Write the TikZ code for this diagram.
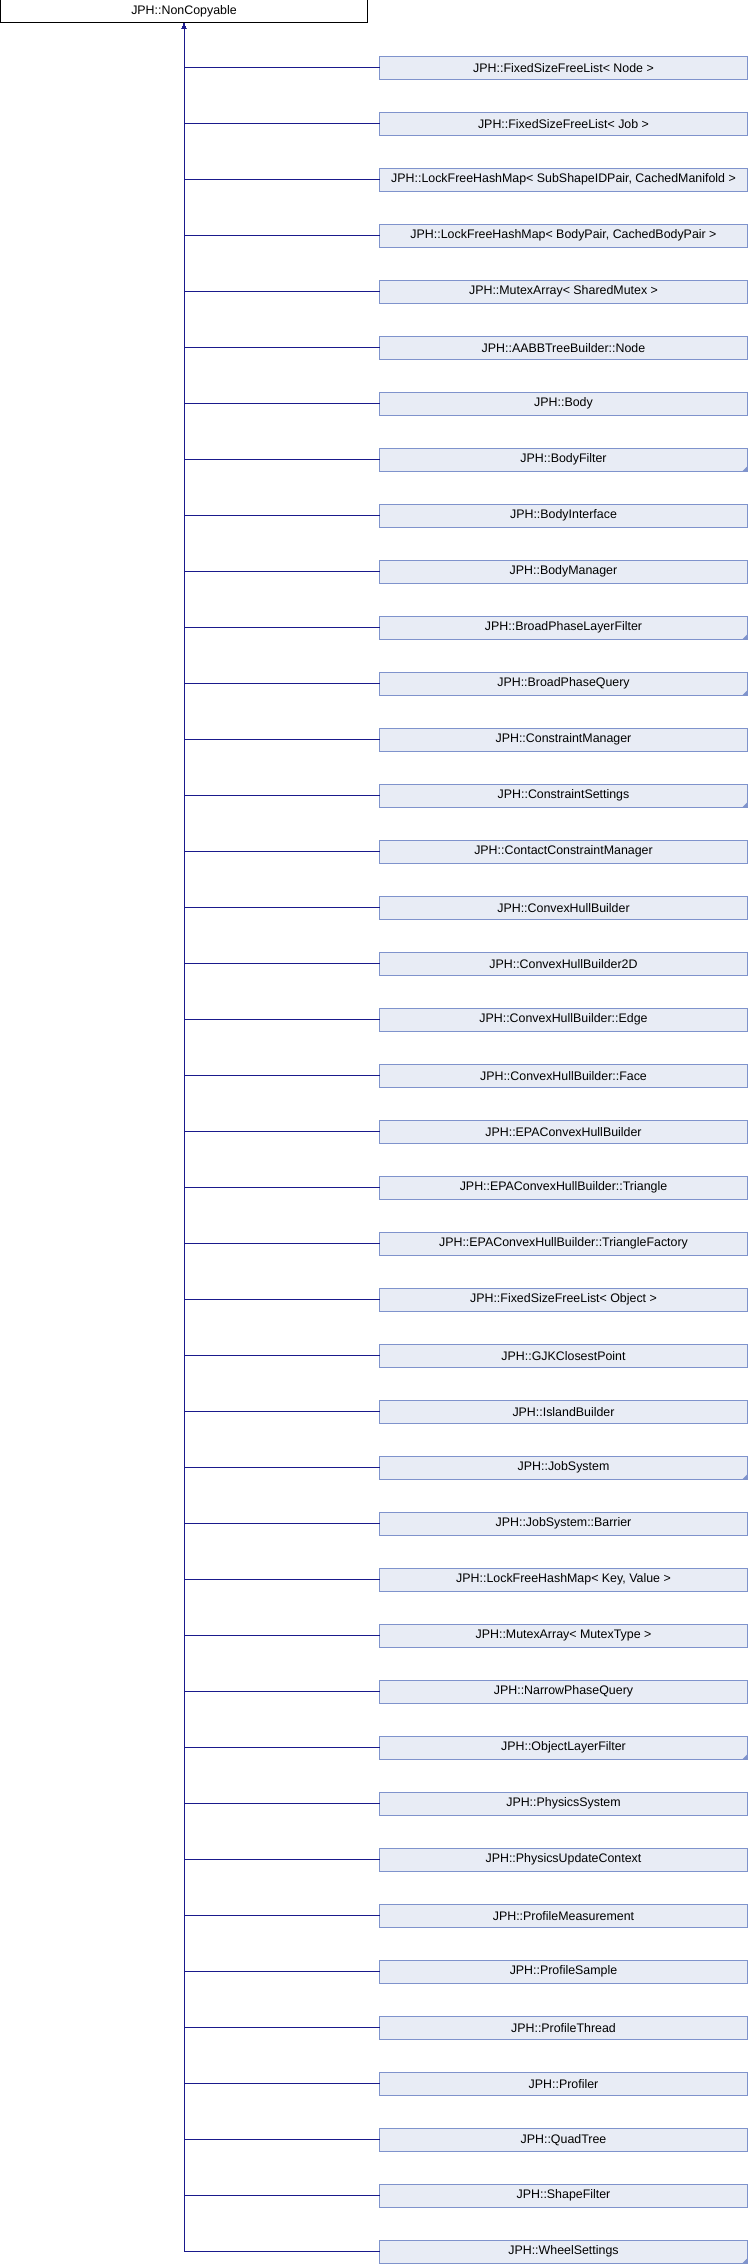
\documentclass[tikz,border=0pt]{standalone}
\usepackage{fontspec}
\setmainfont{Liberation Sans}
\usepackage{xcolor}
\usepackage{tikz}
\usetikzlibrary{positioning,arrows.meta}

\definecolor{boxfill}{HTML}{E8ECF5}
\definecolor{boxline}{HTML}{7F93CC}
\definecolor{edgeblue}{HTML}{1A1A8C}

\begin{document}
\begin{tikzpicture}[x=1pt, y=1pt, node distance=33pt,
    every node/.style={font=\fontsize{12.4}{14}\selectfont, inner sep=0pt, outer sep=0pt},
    basebox/.style={rectangle, draw=black, fill=white, line width=1pt, minimum width=367pt, minimum height=23pt},
    classbox/.style={rectangle, draw=boxline, fill=boxfill, line width=1pt, minimum width=368pt, minimum height=23pt},
    edge/.style={draw=edgeblue, line width=1pt, -{Latex[length=6pt,width=4.5pt]}}]
    \useasboundingbox (0,0) rectangle (748,-2264);

    \node[basebox] (nc) at (184,-11.5) {JPH::NonCopyable};

    \node[classbox] (c1) at (563.5,-67.7) {JPH::FixedSizeFreeList< Node >};
    \node[classbox, below=of c1] (c2) {JPH::FixedSizeFreeList< Job >};
    \node[classbox, below=of c2] (c3) {JPH::LockFreeHashMap< SubShapeIDPair, CachedManifold >};
    \node[classbox, below=of c3] (c4) {JPH::LockFreeHashMap< BodyPair, CachedBodyPair >};
    \node[classbox, below=of c4] (c5) {JPH::MutexArray< SharedMutex >};
    \node[classbox, below=of c5] (c6) {JPH::AABBTreeBuilder::Node};
    \node[classbox, below=of c6] (c7) {JPH::Body};
    \node[classbox, below=of c7] (c8) {JPH::BodyFilter};
    \node[classbox, below=of c8] (c9) {JPH::BodyInterface};
    \node[classbox, below=of c9] (c10) {JPH::BodyManager};
    \node[classbox, below=of c10] (c11) {JPH::BroadPhaseLayerFilter};
    \node[classbox, below=of c11] (c12) {JPH::BroadPhaseQuery};
    \node[classbox, below=of c12] (c13) {JPH::ConstraintManager};
    \node[classbox, below=of c13] (c14) {JPH::ConstraintSettings};
    \node[classbox, below=of c14] (c15) {JPH::ContactConstraintManager};
    \node[classbox, below=of c15] (c16) {JPH::ConvexHullBuilder};
    \node[classbox, below=of c16] (c17) {JPH::ConvexHullBuilder2D};
    \node[classbox, below=of c17] (c18) {JPH::ConvexHullBuilder::Edge};
    \node[classbox, below=of c18] (c19) {JPH::ConvexHullBuilder::Face};
    \node[classbox, below=of c19] (c20) {JPH::EPAConvexHullBuilder};
    \node[classbox, below=of c20] (c21) {JPH::EPAConvexHullBuilder::Triangle};
    \node[classbox, below=of c21] (c22) {JPH::EPAConvexHullBuilder::TriangleFactory};
    \node[classbox, below=of c22] (c23) {JPH::FixedSizeFreeList< Object >};
    \node[classbox, below=of c23] (c24) {JPH::GJKClosestPoint};
    \node[classbox, below=of c24] (c25) {JPH::IslandBuilder};
    \node[classbox, below=of c25] (c26) {JPH::JobSystem};
    \node[classbox, below=of c26] (c27) {JPH::JobSystem::Barrier};
    \node[classbox, below=of c27] (c28) {JPH::LockFreeHashMap< Key, Value >};
    \node[classbox, below=of c28] (c29) {JPH::MutexArray< MutexType >};
    \node[classbox, below=of c29] (c30) {JPH::NarrowPhaseQuery};
    \node[classbox, below=of c30] (c31) {JPH::ObjectLayerFilter};
    \node[classbox, below=of c31] (c32) {JPH::PhysicsSystem};
    \node[classbox, below=of c32] (c33) {JPH::PhysicsUpdateContext};
    \node[classbox, below=of c33] (c34) {JPH::ProfileMeasurement};
    \node[classbox, below=of c34] (c35) {JPH::ProfileSample};
    \node[classbox, below=of c35] (c36) {JPH::ProfileThread};
    \node[classbox, below=of c36] (c37) {JPH::Profiler};
    \node[classbox, below=of c37] (c38) {JPH::QuadTree};
    \node[classbox, below=of c38] (c39) {JPH::ShapeFilter};
    \node[classbox, below=of c39] (c40) {JPH::WheelSettings};

    % inheritance edges
    \foreach \i in {1,...,40}
        \draw[edge] (c\i.west) -| (nc.south);

    % truncated subclasses
    \foreach \i in {8,11,12,14,26,31,40}
        \fill[boxline] (c\i.south east) -- ++(-5,0) -- ++(5,5) -- cycle;
\end{tikzpicture}
\end{document}
